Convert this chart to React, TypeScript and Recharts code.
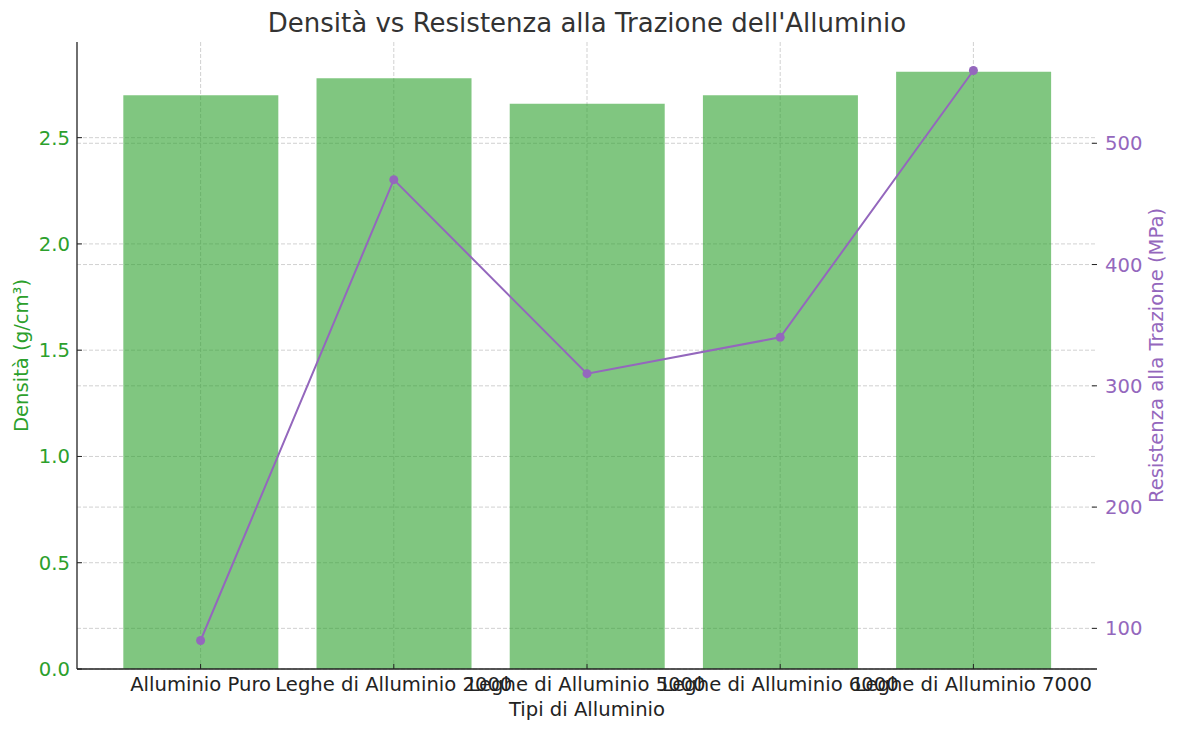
import React from 'react';
import { ComposedChart, Bar, Line, XAxis, YAxis, CartesianGrid } from 'recharts';

const categories = [
  'Alluminio Puro',
  'Leghe di Alluminio 2000',
  'Leghe di Alluminio 5000',
  'Leghe di Alluminio 6000',
  'Leghe di Alluminio 7000',
];
const density = [2.7, 2.78, 2.66, 2.7, 2.81];
const tensile = [90, 470, 310, 340, 560];
const densityTicks = [0, 0.5, 1.0, 1.5, 2.0, 2.5];
const tensileTicks = [100, 200, 300, 400, 500];

const data = categories.map((name, i) => ({ name, density: density[i], tensile: tensile[i] }));

const FONT = 'DejaVu Sans';
const GREEN = '#2ca02c';
const PURPLE = '#9467bd';
const GRID = '#cccccc';

function applyScale(axis: any, v: any): number {
  const s = axis?.scale;
  if (!s) return NaN;
  let pos = NaN;
  if (typeof s === 'function') pos = s(v);
  else if (typeof s.map === 'function') pos = s.map(v);
  const bw = typeof s.bandwidth === 'function' ? s.bandwidth() : 0;
  return pos + bw / 2;
}

const leftHorizontal = (props: any) =>
  densityTicks.map((t) => applyScale(props.yAxis, t)).filter((v) => Number.isFinite(v));
const rightHorizontal = (props: any) =>
  tensileTicks.map((t) => applyScale(props.yAxis, t)).filter((v) => Number.isFinite(v));
const categoryVertical = (props: any) =>
  categories.map((c) => applyScale(props.xAxis, c)).filter((v) => Number.isFinite(v));

export default function App() {
  return (
    <div style={{ position: 'absolute', left: 0, top: 0, width: 1180, height: 733, fontFamily: FONT, background: '#fff' }}>
      <ComposedChart
        width={1180}
        height={733}
        data={data}
        margin={{ top: 42, right: 0, bottom: 0, left: 0 }}
        barCategoryGap="10%"
      >
        <CartesianGrid
          yAxisId="left"
          stroke={GRID}
          strokeDasharray="4 2"
          strokeWidth={0.9}
          horizontalCoordinatesGenerator={leftHorizontal}
          verticalCoordinatesGenerator={categoryVertical}
        />
        <CartesianGrid
          yAxisId="right"
          stroke={GRID}
          strokeDasharray="4 2"
          strokeWidth={0.9}
          vertical={false}
          horizontalCoordinatesGenerator={rightHorizontal}
        />
        <XAxis
          dataKey="name"
          interval={0}
          height={64}
          padding={{ left: 27, right: 27 }}
          axisLine={{ stroke: '#222', strokeWidth: 1.3 }}
          tickLine={{ stroke: '#222' }}
          tickSize={-5}
          tickMargin={13}
          tick={{ fill: '#222', fontSize: 19.6, fontFamily: FONT }}
        />
        <YAxis
          yAxisId="left"
          orientation="left"
          width={77}
          domain={[0, 2.95]}
          ticks={densityTicks}
          tickFormatter={(v: number) => v.toFixed(1)}
          axisLine={{ stroke: '#222', strokeWidth: 1.3 }}
          tickLine={{ stroke: '#222' }}
          tickSize={-5}
          tickMargin={12}
          tick={{ fill: GREEN, fontSize: 19.6, fontFamily: FONT }}
        />
        <YAxis
          yAxisId="right"
          orientation="right"
          width={83}
          domain={[66.5, 583.5]}
          ticks={tensileTicks}
          axisLine={false}
          tickLine={{ stroke: '#222' }}
          tickSize={-5}
          tickMargin={13}
          tick={{ fill: PURPLE, fontSize: 19.6, fontFamily: FONT }}
        />
        <Bar yAxisId="left" dataKey="density" fill={GREEN} fillOpacity={0.6} isAnimationActive={false} />
        <Line
          yAxisId="right"
          type="linear"
          dataKey="tensile"
          stroke={PURPLE}
          strokeWidth={2}
          dot={{ r: 4.5, fill: PURPLE, stroke: 'none' }}
          activeDot={false}
          isAnimationActive={false}
        />
      </ComposedChart>
      <svg
        width={1180}
        height={733}
        style={{ position: 'absolute', left: 0, top: 0, pointerEvents: 'none' }}
      >
        <text x={587} y={32} textAnchor="middle" fontSize={26} fill="#333" fontFamily={FONT}>
          Densità vs Resistenza alla Trazione dell'Alluminio
        </text>
        <text x={587} y={716} textAnchor="middle" fontSize={19.6} fill="#222" fontFamily={FONT}>
          Tipi di Alluminio
        </text>
        <text
          transform="translate(27.7,355.5) rotate(-90)"
          textAnchor="middle"
          fontSize={19.6}
          fill={GREEN}
          fontFamily={FONT}
        >
          Densità (g/cm³)
        </text>
        <text
          transform="translate(1162.5,355.5) rotate(-90)"
          textAnchor="middle"
          fontSize={19.6}
          fill={PURPLE}
          fontFamily={FONT}
        >
          Resistenza alla Trazione (MPa)
        </text>
      </svg>
    </div>
  );
}
